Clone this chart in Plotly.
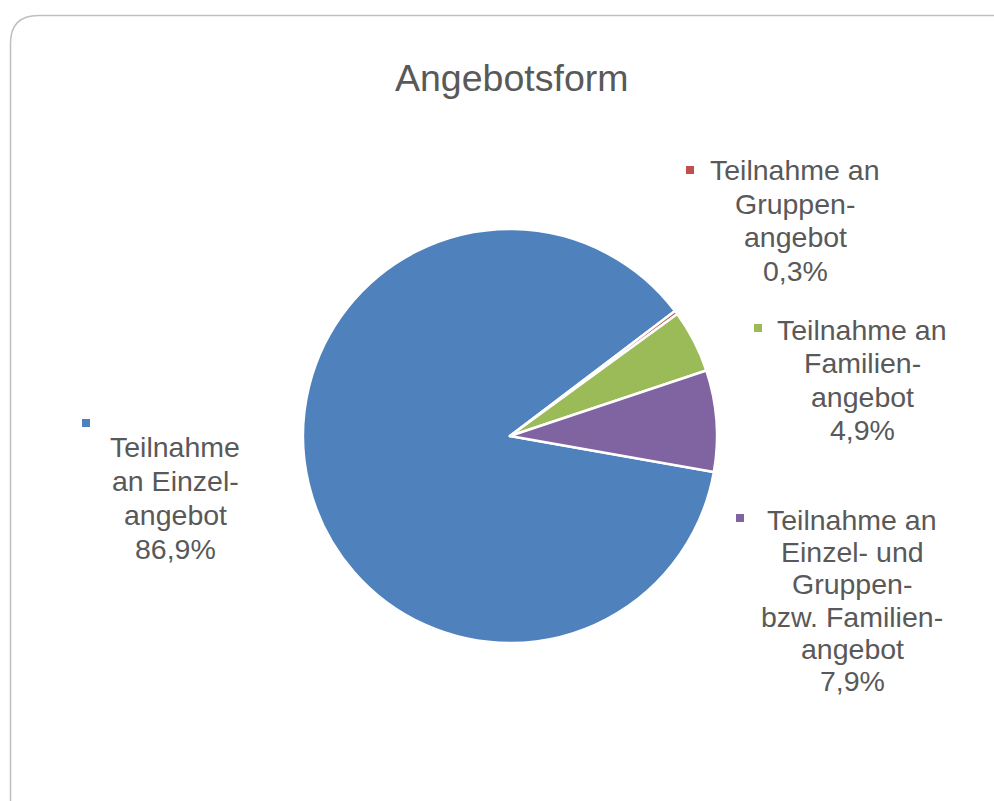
import plotly.graph_objects as go

W, H = 994, 801

# data
labels = ["Teilnahme an Einzelangebot", "Teilnahme an Gruppenangebot",
          "Teilnahme an Familienangebot", "Teilnahme an Einzel- und Gruppen- bzw. Familienangebot"]
values = [86.9, 0.3, 4.9, 7.9]
colors = ["#4F81BD", "#C0504D", "#9BBB59", "#8064A2"]
label_lines = [
    ["Teilnahme", "an Einzel-", "angebot"],
    ["Teilnahme an", "Gruppen-", "angebot"],
    ["Teilnahme an", "Familien-", "angebot"],
    ["Teilnahme an", "Einzel- und", "Gruppen-", "bzw. Familien-", "angebot"],
]

# label placement in pixels: marker (x, y), text centre x, first line y, line step
label_pos = [
    ((86, 423), 175, 447, 34),
    ((690, 170), 795, 170, 33.5),
    ((758, 328), 862, 330, 33.3),
    ((740, 518), 852, 520, 32.2),
]

TXT = "#595959"
FONT = "Liberation Sans, Arial, sans-serif"


def px(x):
    return x / W


def py(y):
    return 1 - y / H


cx, cy, r = 510, 436, 207

fig = go.Figure(go.Pie(
    labels=labels, values=values, sort=False, direction="clockwise", rotation=100,
    marker=dict(colors=colors, line=dict(color="white", width=2.5)),
    textinfo="none", hoverinfo="label+percent", showlegend=False,
    domain=dict(x=[px(cx - r), px(cx + r)], y=[py(cy + r), py(cy - r)]),
))

annotations = [dict(text="Angebotsform", x=px(511), y=py(78), xref="paper", yref="paper",
                    xanchor="center", yanchor="middle",
                    showarrow=False, font=dict(size=37.5, color=TXT, family=FONT))]
shapes = []
for i, (lines, pos) in enumerate(zip(label_lines, label_pos)):
    (mx, my), tx, ty, step = pos
    pct = f"{values[i]:.1f}".replace(".", ",") + "%"
    for k, line in enumerate(lines + [pct]):
        annotations.append(dict(text=line, x=px(tx), y=py(ty + k * step), xref="paper", yref="paper",
                                showarrow=False, xanchor="center", yanchor="middle",
                                font=dict(size=28.5, color=TXT, family=FONT)))
    shapes.append(dict(type="rect", xref="paper", yref="paper", x0=px(mx - 4), x1=px(mx + 4),
                       y0=py(my + 4), y1=py(my - 4), fillcolor=colors[i], line=dict(width=0)))

# rounded chart frame
x0, y0, rad = 10.5, 15.5, 28
path = (f"M {px(x0)} {py(H + 20)} L {px(x0)} {py(y0 + rad)} "
        f"Q {px(x0)} {py(y0)} {px(x0 + rad)} {py(y0)} L {px(W + 20)} {py(y0)}")
shapes.append(dict(type="path", xref="paper", yref="paper", path=path,
                   line=dict(color="#BFBFBF", width=1.5)))

fig.update_layout(
    width=W, height=H, margin=dict(l=0, r=0, t=0, b=0),
    paper_bgcolor="white", plot_bgcolor="white",
    annotations=annotations, shapes=shapes,
)

fig.write_html("out.html", config={"displayModeBar": False},
               post_script="document.body.style.margin = '0'; document.body.style.overflow = 'hidden';")
